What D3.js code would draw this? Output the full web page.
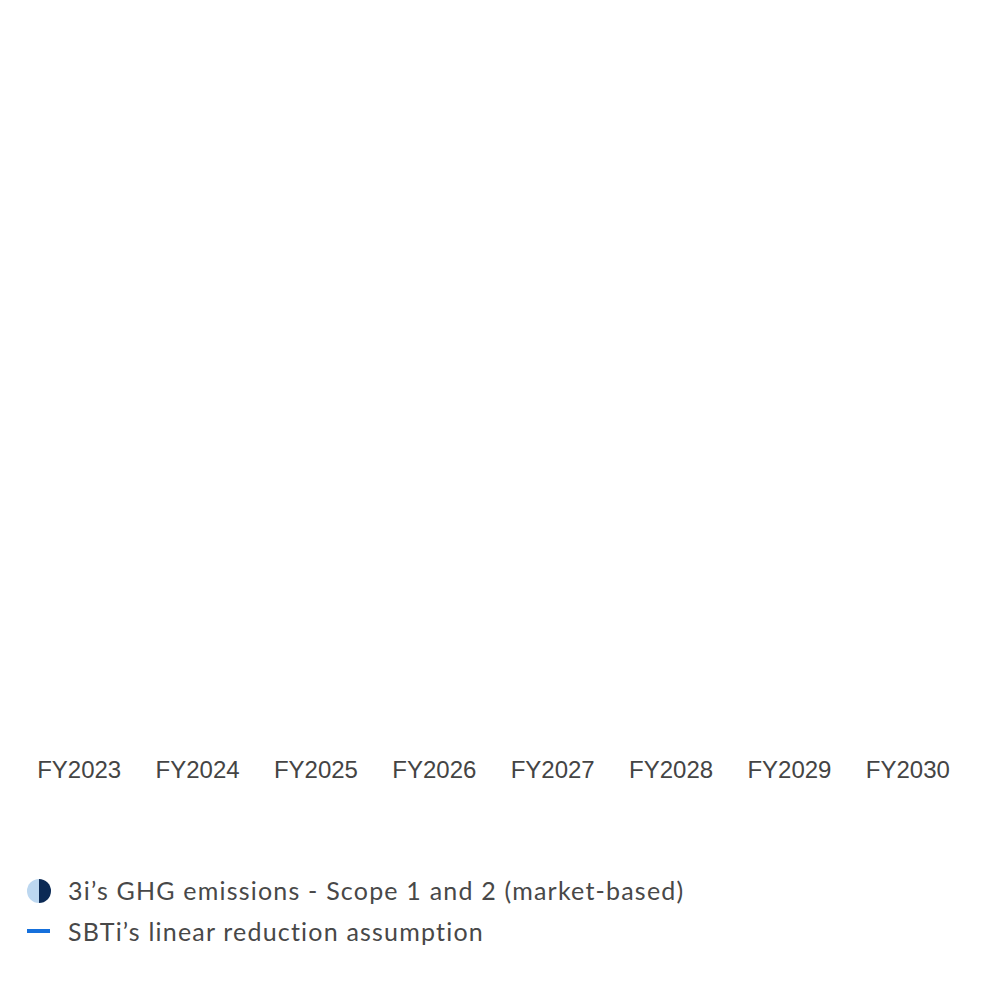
<!DOCTYPE html>
<html>
<head>
<meta charset="utf-8">
<script src="https://cdn.jsdelivr.net/npm/d3@7"></script>
<style>
  html, body { margin: 0; padding: 0; background: #ffffff; }
  svg { display: block; }
</style>
</head>
<body>
<svg id="chart" width="1000" height="1000"></svg>
<script>
// ---- data ----
const categories = ["FY2023", "FY2024", "FY2025", "FY2026", "FY2027", "FY2028", "FY2029", "FY2030"];
// No marks are visible in the reference plot area, so the series hold no readable values.
const emissionsValues = [];
const sbtiValues = [];
const legendLabels = ["3i\u2019s GHG emissions - Scope 1 and 2 (market-based)", "SBTi\u2019s linear reduction assumption"];

// ---- layout ----
const svg = d3.select("#chart");
const plotTop = 30, plotBottom = 745;
const x = d3.scaleBand().domain(categories).range([20, 967]).paddingInner(0.3).paddingOuter(0.15);
const yMax = d3.max(emissionsValues.concat(sbtiValues)) || 1;
const y = d3.scaleLinear().domain([0, yMax]).range([plotBottom, plotTop]);

// bars (none visible)
svg.append("g").selectAll("rect").data(emissionsValues).join("rect")
  .attr("x", (d, i) => x(categories[i]))
  .attr("width", x.bandwidth())
  .attr("y", d => y(d))
  .attr("height", d => plotBottom - y(d))
  .attr("fill", "#0b2a55");

// line (none visible)
if (sbtiValues.length) {
  svg.append("path").datum(sbtiValues)
    .attr("fill", "none").attr("stroke", "#1570dc").attr("stroke-width", 4)
    .attr("d", d3.line().x((d, i) => x(categories[i]) + x.bandwidth() / 2).y(d => y(d)));
}

// x axis
const xAxis = svg.append("g")
  .attr("transform", `translate(0, ${plotBottom})`)
  .call(d3.axisBottom(x).tickSize(0).tickPadding(16));
xAxis.select(".domain").remove();
xAxis.selectAll("text")
  .attr("font-family", "'Liberation Sans', Arial, sans-serif")
  .attr("font-size", 24)
  .attr("fill", "#444444");

// legend
const legend = svg.append("g");
const leg1 = legend.append("g").attr("transform", "translate(39, 891)");
const r = 12;
leg1.append("path")
  .attr("d", d3.arc()({ innerRadius: 0, outerRadius: r, startAngle: Math.PI, endAngle: 2 * Math.PI }))
  .attr("fill", "#bcd7f0");
leg1.append("path")
  .attr("d", d3.arc()({ innerRadius: 0, outerRadius: r, startAngle: 0, endAngle: Math.PI }))
  .attr("fill", "#0b2a55");
legend.append("line")
  .attr("x1", 27).attr("x2", 50).attr("y1", 931).attr("y2", 931)
  .attr("stroke", "#1570dc").attr("stroke-width", 4);

legend.selectAll("text.leg").data(legendLabels).join("text")
  .attr("class", "leg")
  .attr("x", 68)
  .attr("y", (d, i) => 900 + i * 41)
  .attr("font-family", "Lato, 'Noto Sans', sans-serif")
  .attr("font-size", 25)
  .attr("letter-spacing", 1.2)
  .attr("fill", "#484848")
  .text(d => d);
</script>
</body>
</html>
